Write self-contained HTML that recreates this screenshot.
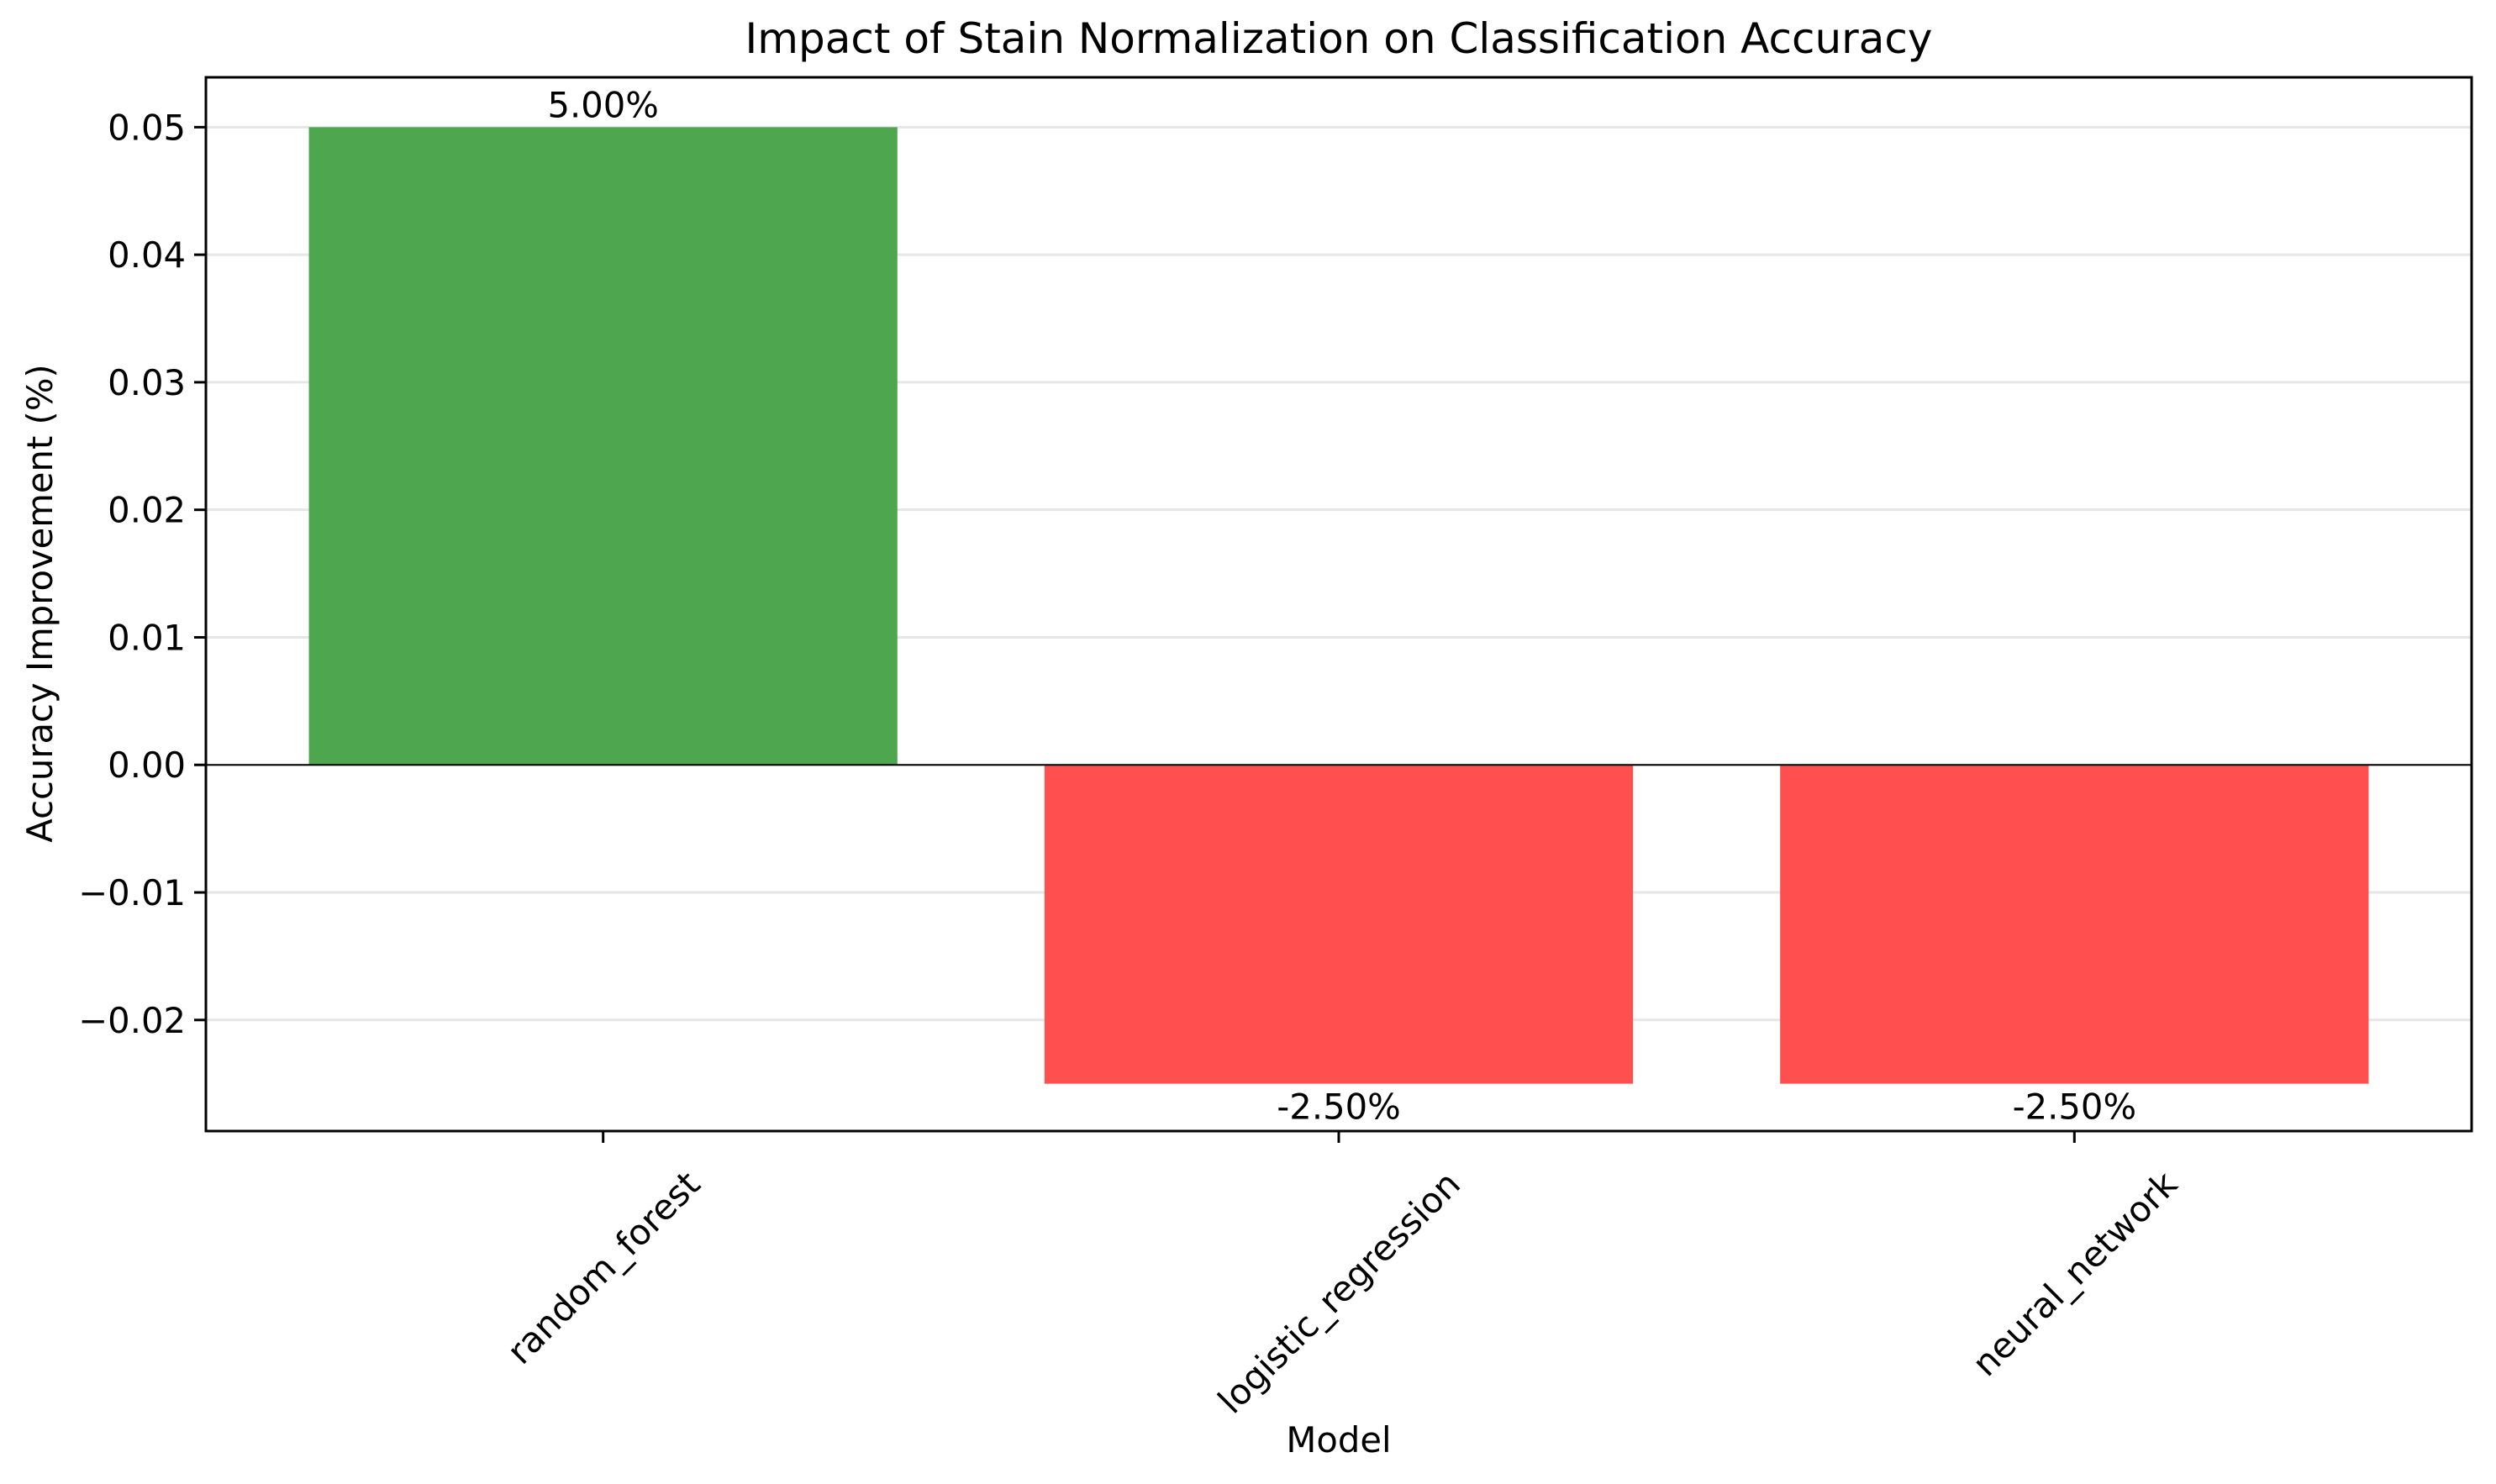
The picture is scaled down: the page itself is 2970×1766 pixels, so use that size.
<!DOCTYPE html>
<html><head><meta charset="utf-8"><style>
html,body{margin:0;padding:0;background:#fff;}
svg{display:block;font-family:"DejaVu Sans","Liberation Sans",sans-serif;}
</style></head><body>
<svg id="chart" width="2970" height="1766" viewBox="0 0 2970 1766">
<rect width="2970" height="1766" fill="#fff"/>
<g id="grid"></g><g id="bars"></g><g id="axes"></g><g id="labels"></g>
<text x="1593" y="63" font-size="50" text-anchor="middle" fill="#000">Impact of Stain Normalization on Classification Accuracy</text>
<text x="1593" y="1728" font-size="41.7" text-anchor="middle" fill="#000">Model</text>
<text transform="translate(62,718) rotate(-90)" font-size="41.7" text-anchor="middle" fill="#000">Accuracy Improvement (%)</text>
</svg>
<script>
const categories = ["random_forest","logistic_regression","neural_network"];
const improvements = [0.05,-0.025,-0.025];
const valueLabels = ["5.00%","-2.50%","-2.50%"];
const yTicks = [-0.02,-0.01,0.00,0.01,0.02,0.03,0.04,0.05];
const yTickLabels = ["\u22120.02","\u22120.01","0.00","0.01","0.02","0.03","0.04","0.05"];

const L=245,R=2941,T=92,B=1346;
const xMin=-0.54,xMax=2.54,yMin=-0.02871,yMax=0.05391;
const xs=v=>L+(v-xMin)/(xMax-xMin)*(R-L);
const ys=v=>B-(v-yMin)/(yMax-yMin)*(B-T);
const NS="http://www.w3.org/2000/svg";
function mk(tag,attrs,parent,text){const e=document.createElementNS(NS,tag);for(const k in attrs)e.setAttribute(k,attrs[k]);if(text!==undefined)e.textContent=text;parent.appendChild(e);return e;}
const grid=document.getElementById('grid'),bars=document.getElementById('bars'),axes=document.getElementById('axes'),labels=document.getElementById('labels');

yTicks.forEach((t,i)=>{
  const y=ys(t);
  const g=mk('line',{x1:L,x2:R,y1:y,y2:y,stroke:'#e6e6e6','stroke-width':3},grid);
  
  
  const tk=mk('line',{x1:L-14,x2:L,y1:y,y2:y,stroke:'#000','stroke-width':3},axes);
  
  
  const tl=mk('text',{x:L-24,y:y+15,'font-size':41.7,'text-anchor':'end',fill:'#000'},axes,yTickLabels[i]);
  
  
});

categories.forEach((c,i)=>{
  const v=improvements[i];
  const x0=xs(i-0.4),x1=xs(i+0.4);
  const y0=ys(Math.max(v,0)),y1=ys(Math.min(v,0));
  const b=mk('rect',{x:x0,y:y0,width:x1-x0,height:y1-y0,fill:v>=0?'#4ea64e':'#ff4f4f'},bars);
  
  
  const ly=v>=0?ys(v)-12:ys(v)+42;
  const vl=mk('text',{x:xs(i),y:ly,'font-size':41.7,'text-anchor':'middle',fill:'#000'},labels,valueLabels[i]);
  
  
  const tk=mk('line',{x1:xs(i),x2:xs(i),y1:B,y2:B+14,stroke:'#000','stroke-width':3},axes);
  
  
  const t=mk('text',{'font-size':41.7,'text-anchor':'middle',fill:'#000'},axes,c);
  
  
  const len=t.getComputedTextLength();
  const half=(len+40)*0.7071/2;
  const cy=1387+half;
  t.setAttribute('transform','translate('+xs(i)+','+cy+') rotate(-45)');
  t.setAttribute('y',15);
});

const zl=mk('line',{x1:L,x2:R,y1:ys(0),y2:ys(0),stroke:'#000','stroke-width':2},axes);


const fr=mk('rect',{x:L,y:T,width:R-L,height:B-T,fill:'none',stroke:'#000','stroke-width':3},axes);


</script>
</body></html>
